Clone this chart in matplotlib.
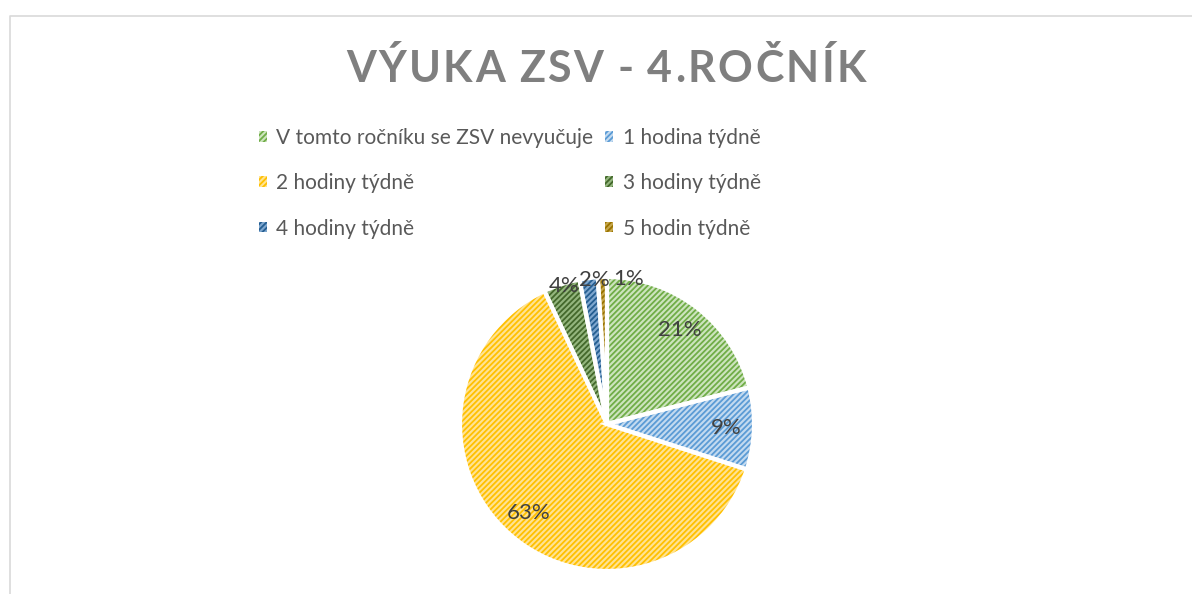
import matplotlib
matplotlib.use("Agg")
import matplotlib.pyplot as plt
from matplotlib.lines import Line2D
import numpy as np

categories = ["V tomto ročníku se ZSV nevyučuje", "1 hodina týdně", "2 hodiny týdně",
              "3 hodiny týdně", "4 hodiny týdně", "5 hodin týdně"]
values = [21, 9, 63, 4, 2, 1]
stripe_colors = ["#70AD47", "#5B9BD5", "#FFC000", "#43682B", "#255E91", "#997300"]
back_colors = ["#CDE4BE", "#C3DAF0", "#FFE393", "#94B67E", "#7FA7CF", "#C7A84E"]
title = "VÝUKA ZSV - 4.ROČNÍK"

plt.rcParams["font.family"] = ["Lato", "DejaVu Sans"]
plt.rcParams["hatch.linewidth"] = 1.3

W, H = 1192, 594
fig = plt.figure(figsize=(W / 100, H / 100), dpi=100)

# pie axes: center ~ (607, 424) px, radius ~147 px
r_px = 147
span = 1.25
size = 2 * span * r_px
cx, cy = 607, H - 424
ax = fig.add_axes([(cx - size / 2) / W, (cy - size / 2) / H, size / W, size / H])
ax.set_xlim(-span, span)
ax.set_ylim(-span, span)
ax.set_aspect("equal")
ax.axis("off")

wedges, _ = ax.pie(values, colors=back_colors, startangle=90, counterclock=False,
                   radius=1, wedgeprops=dict(linewidth=0))
for w, sc in zip(wedges, stripe_colors):
    w.set_hatch("//////")
    w.set_edgecolor(sc)
    w.set_linewidth(0)

# white separators on top
sep, _ = ax.pie(values, colors=["none"] * len(values), startangle=90, counterclock=False,
                radius=1, wedgeprops=dict(linewidth=3, edgecolor="white"))

total = sum(values)
# Excel pushes the tiny slices' labels outside and spreads them apart
shift = {"4%": 0.02, "2%": 0.04, "1%": 0.18}
for w, v in zip(wedges, values):
    ang = np.deg2rad((w.theta1 + w.theta2) / 2)
    lab = f"{v / total * 100:.0f}%"
    if v >= 5:
        x, y = 0.81 * np.cos(ang), 0.81 * np.sin(ang)
    else:
        x, y = np.cos(ang) + shift[lab], np.sin(ang) - 0.01
    ax.text(x, y, lab, ha="center", va="center", fontsize=16, color="#404040")

# legend, filled row by row like Excel
order = [0, 2, 4, 1, 3, 5]
leg = fig.legend([wedges[i] for i in order], [categories[i] for i in order],
                 ncol=2, loc="upper left",
                 bbox_to_anchor=(240 / W, 1 - 109 / H), frameon=False,
                 fontsize=15, handlelength=0.4, handleheight=0.4,
                 handletextpad=0.45, columnspacing=0.55, labelspacing=1.22,
                 labelcolor="#595959")

# title with letter spacing
fig.canvas.draw()
renderer = fig.canvas.get_renderer()
tracking = 2.5
chars = []
widths = []
for ch in title:
    t = fig.text(0, 0, ch, fontsize=31, fontweight="bold", color="#7F7F7F",
                 va="center", ha="left")
    bb = t.get_window_extent(renderer)
    chars.append(t)
    widths.append(bb.width if ch != " " else 9)
total_w = sum(widths) + tracking * (len(title) - 1)
x = 606 - total_w / 2
for t, wd in zip(chars, widths):
    t.set_position((x / W, 1 - 69 / H))
    x += wd + tracking

# chart frame
fig.add_artist(Line2D([9.5 / W, 9.5 / W, 1], [0, 1 - 15.5 / H, 1 - 15.5 / H],
                      transform=fig.transFigure, color="#D9D9D9", linewidth=1.2))

fig.savefig("out.png", dpi=100, facecolor="white")
